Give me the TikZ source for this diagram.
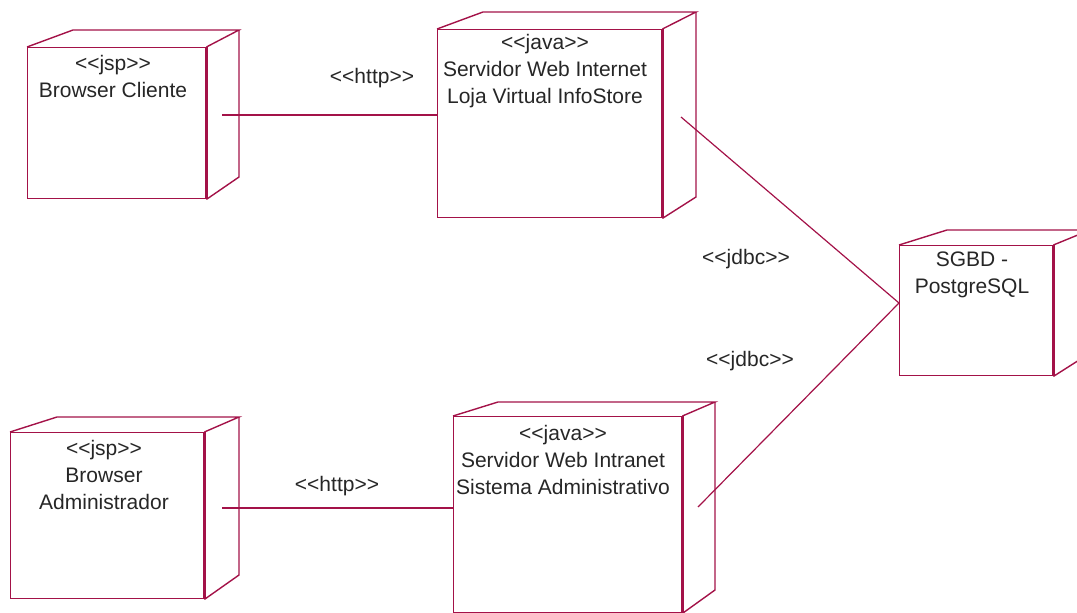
\documentclass[tikz,border=0pt]{standalone}
\usepackage{fontspec}
\setmainfont{Liberation Sans}
\definecolor{rose}{RGB}{163,18,72}
\newcommand\stereo[1]{<{}<#1>{}>}
\begin{document}
\begin{tikzpicture}[x=1pt,y=-1pt,
  frontbox/.style={draw=rose,line width=1.4pt,inner sep=0pt,anchor=north west},
  edge/.style={draw=rose,line width=1.4pt},
  thickedge/.style={draw=rose,line width=3pt},
  txt/.style={inner sep=0pt,align=center,text=black!85,font=\fontsize{21}{27}\selectfont},
  lbl/.style={inner sep=0pt,text=black!85,font=\fontsize{21}{27}\selectfont}]
\useasboundingbox (0,0) rectangle (1077,613);
\begin{scope}
\clip (0,0) rectangle (1077,613);
% Box 1
\node[frontbox,minimum width=178pt,minimum height=151pt] (b1) at (27,47) {};
\draw[edge] (b1.north west) -- (73,30) -- (239,30) -- (b1.north east);
\draw[edge] (239,30) -- (239,177) -- (b1.south east);
\draw[thickedge] (b1.north east) -- (b1.south east);
\node[txt] (t1) at (113,76) {\stereo{jsp}\\Browser Cliente};
% Box 2
\node[frontbox,minimum width=224pt,minimum height=188pt] (b2) at (437,29) {};
\draw[edge] (b2.north west) -- (483,12) -- (696,12) -- (b2.north east);
\draw[edge] (696,12) -- (696,197) -- (b2.south east);
\draw[thickedge] (b2.north east) -- (b2.south east);
\node[txt] (t2) at (545,71) {\stereo{java}\\Servidor Web Internet\\Loja Virtual InfoStore};
% Box 3
\node[frontbox,minimum width=153pt,minimum height=130pt] (b3) at (899,245) {};
\draw[edge] (b3.north west) -- (947,230) -- (1090,230) -- (b3.north east);
\draw[edge] (1087,230) -- (1087,355) -- (b3.south east);
\draw[thickedge] (b3.north east) -- (b3.south east);
\node[txt] (t3) at (972,275) {SGBD -\\PostgreSQL};
% Box 4
\node[frontbox,minimum width=193pt,minimum height=166pt] (b4) at (10,432) {};
\draw[edge] (b4.north west) -- (57,417) -- (239,417) -- (b4.north east);
\draw[edge] (239,417) -- (239,575) -- (b4.south east);
\draw[thickedge] (b4.north east) -- (b4.south east);
\node[txt] (t4) at (104,475) {\stereo{jsp}\\Browser\\Administrador};
% Box 5
\node[frontbox,minimum width=228pt,minimum height=196pt] (b5) at (453,416) {};
\draw[edge] (b5.north west) -- (498,402) -- (715,402) -- (b5.north east);
\draw[edge] (715,402) -- (715,590) -- (b5.south east);
\draw[thickedge] (b5.north east) -- (b5.south east);
\node[txt] (t5) at (563,460) {\stereo{java}\\Servidor Web Intranet\\Sistema Administrativo};
% connector ends
\coordinate (c1) at (222,115);
\coordinate (c4) at (222,508);
\coordinate (c2) at (681,117);
\coordinate (c5) at (698,507);
\coordinate (c3) at (899,303);
\draw[edge,line width=1.2pt] (c1) -- (b2.west |- c1);
\draw[edge,line width=1.2pt] (c4) -- (b5.west |- c4);
\draw[edge,line width=1.2pt] (c2) -- (c3);
\draw[edge,line width=1.2pt] (c5) -- (c3);
\node[lbl] (l1) at (372,78) {\stereo{http}};
\node[lbl] (l2) at (337,486) {\stereo{http}};
\node[lbl] (l3) at (746,259) {\stereo{jdbc}};
\node[lbl] (l4) at (750,361) {\stereo{jdbc}};
\end{scope}
\end{tikzpicture}
\end{document}
